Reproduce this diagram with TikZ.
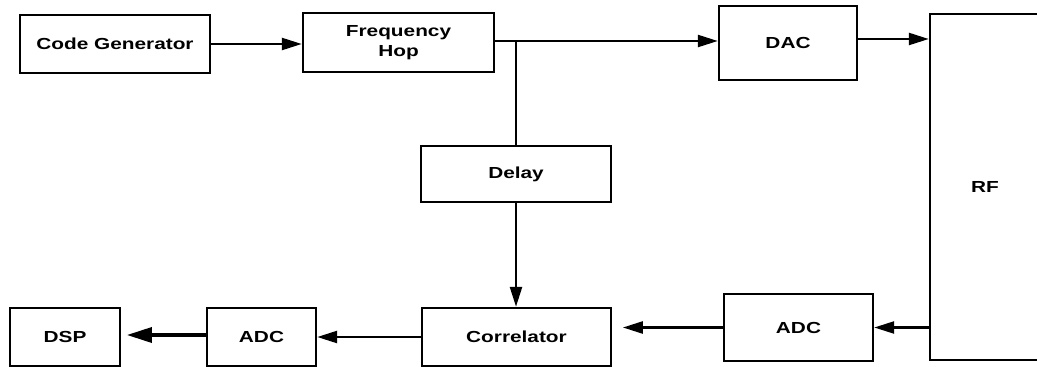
\documentclass[tikz,border=0pt]{standalone}
\usepackage{fontspec}
\setmainfont[FakeStretch=1.3]{Liberation Sans}
\usetikzlibrary{arrows.meta}

\tikzset{every picture/.style={line width=0.75pt}}
\tikzset{
  blk/.style={draw, line width=1.8, inner sep=0pt, align=center,
    font=\bfseries\fontsize{12}{15.5}\selectfont},
  sig/.style={line width=1.8, -{Triangle[length=15, width=9]}},
  bigsig/.style={line width=3.2, -{Triangle[length=19, width=11]}},
}

\begin{document}
\begin{tikzpicture}[x=0.75pt,y=0.75pt,yscale=-1,xscale=1]
\useasboundingbox (0,0) rectangle (1037,367);

%Shape: Rectangle [id:codegen]
\node [blk, minimum width=142.5, minimum height=43.5] (codegen) at (115,44) {Code Generator};
%Shape: Rectangle [id:freqhop]
\node [blk, minimum width=143.25, minimum height=44.25] (freqhop) at (398.5,42.5) {Frequency\\Hop};
%Shape: Rectangle [id:dac]
\node [blk, minimum width=103.5, minimum height=55.5] (dac) at (788,43) {DAC};
%Shape: Rectangle [id:rf]
\node [blk, minimum width=82.5, minimum height=259.5] (rf) at (985,187) {RF};
%Shape: Rectangle [id:delay]
\node [blk, minimum width=142.5, minimum height=42] (delay) at (516,174) {Delay};
%Shape: Rectangle [id:correlator]
\node [blk, minimum width=141.75, minimum height=43.5] (correlator) at (516.5,337) {Correlator};
%Shape: Rectangle [id:adcrx]
\node [blk, minimum width=111.75, minimum height=50.25] (adcrx) at (798.5,327.5) {ADC};
%Shape: Rectangle [id:adcout]
\node [blk, minimum width=81.75, minimum height=43.5] (adcout) at (261.5,337) {ADC};
%Shape: Rectangle [id:dsp]
\node [blk, minimum width=82.5, minimum height=43.5] (dsp) at (65,337) {DSP};

% Connectors
\coordinate (split) at (516,41);
\draw [sig] (codegen.east) -- (codegen.east -| freqhop.west);
\draw [sig] (freqhop.east |- split) -- (dac.west |- split);
\draw [line width=1.8] (split) -- (delay.north);
\draw [sig] ([yshift=-3]dac.east) -- ([yshift=-3]dac.east -| rf.west);
\draw [sig] (delay.south) -- (delay.south |- correlator.north);
\draw [sig] (rf.west |- adcrx.east) -- (adcrx.east);
\draw [sig, shorten >=8] (adcrx.west) -- (adcrx.west -| correlator.east);
\draw [sig] (correlator.west) -- (adcout.east);
\draw [bigsig, shorten >=4] ([yshift=-1.5]adcout.west) -- ([yshift=-1.5]dsp.east);

\end{tikzpicture}
\end{document}
